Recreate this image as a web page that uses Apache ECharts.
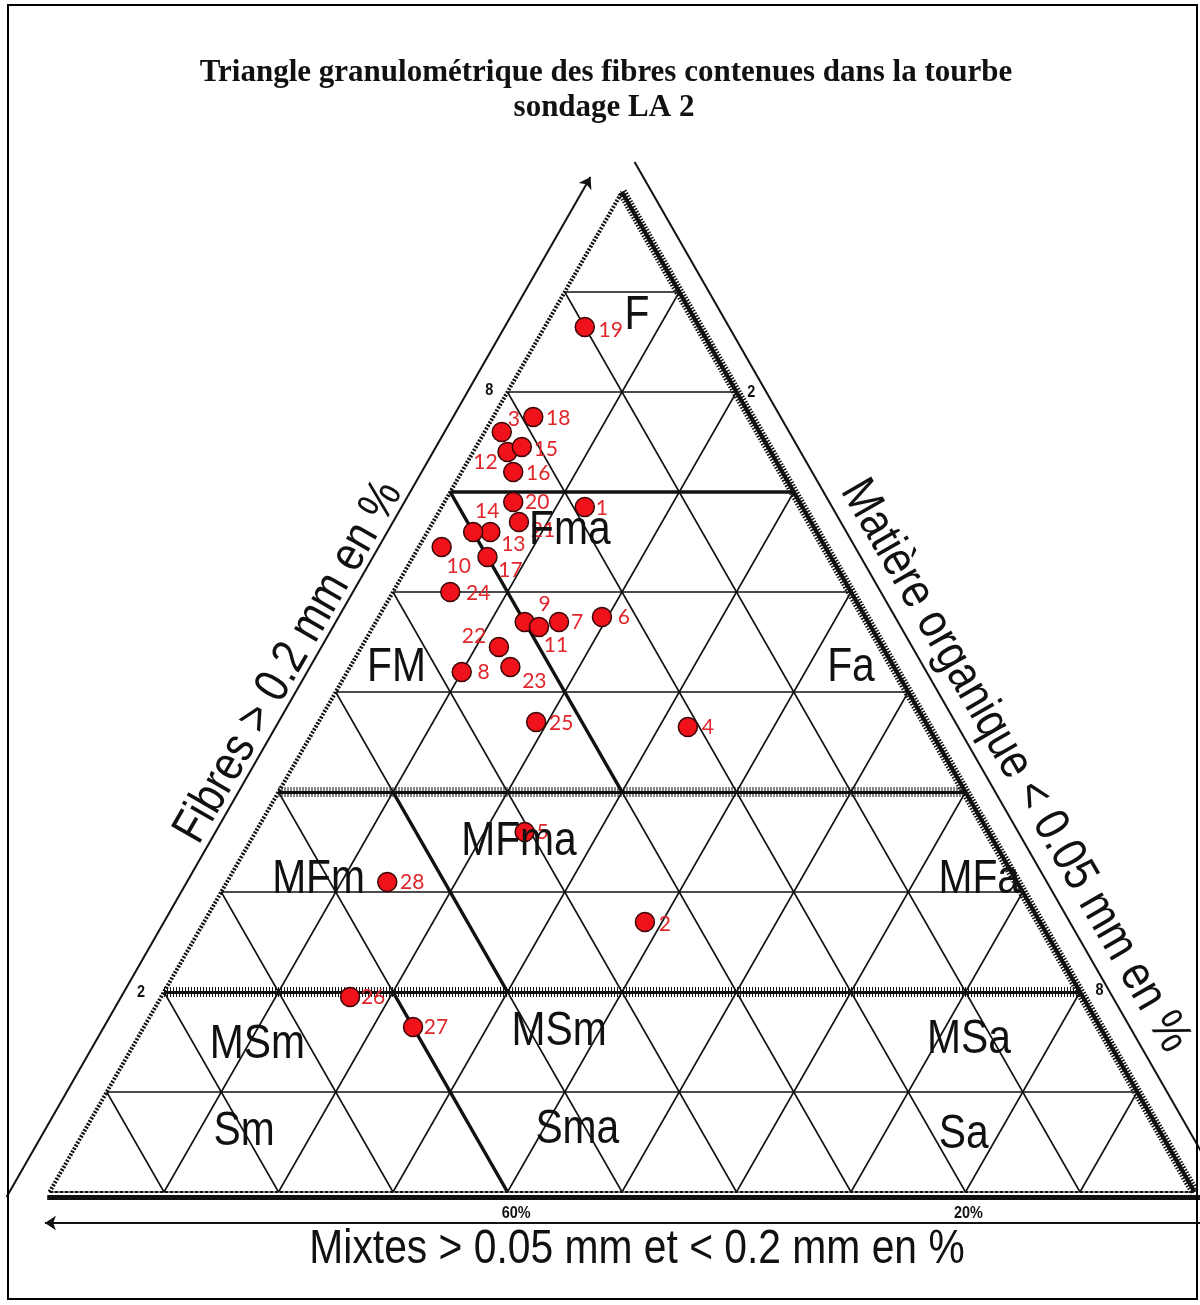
<!DOCTYPE html>
<html>
<head>
<meta charset="utf-8">
<script src="https://cdn.jsdelivr.net/npm/echarts@6/dist/echarts.min.js"></script>
<style>
  html, body { margin: 0; padding: 0; background: #fff; }
  #chart { width: 1200px; height: 1305px; }
</style>
</head>
<body>
<div id="chart"></div>
<script>
const sampleIds = ['1','2','3','4','5','6','7','8','9','10','11','12','13','14',
  '15','16','17','18','19','20','21','22','23','24','25','26','27','28']
const fibres  = [68.5, 27, 76, 46.5, 36, 57.5, 57, 52, 57, 64.5, 56.5, 74, 66, 66,
  74.5, 72, 63.5, 77.5, 86.5, 69, 67, 54.5, 52.5, 60, 47, 19.5, 16.5, 31]
const mixtes  = [19, 34.5, 22.5, 21, 40.5, 23, 27, 38, 30, 33.5, 29, 23, 28.5, 30,
  21.5, 23.5, 30, 19, 10, 25, 25.5, 33.5, 33.5, 35, 34, 64, 60, 55]
const organic = [12.5, 38.5, 1.5, 32.5, 23.5, 19.5, 16, 10, 13, 2, 14.5, 3, 5.5, 4,
  4, 4.5, 6.5, 3.5, 3.5, 6, 7.5, 12, 14, 5, 19, 16.5, 23.5, 14]

// quadrillage : une ligne tous les 10 %
const gridSteps = [10, 20, 30, 40, 50, 60, 70, 80, 90]

// classes (nom, fibres %, matière organique %)
const zoneNames   = ['F', 'Fma', 'FM', 'Fa', 'MFma', 'MFm', 'MFa', 'MSm', 'MSm', 'MSa', 'Sm', 'Sma', 'Sa']
const zoneFibres  = [87.6, 66.1, 52.4, 52.4, 35, 31.2, 31.2, 14.7, 16, 15.2, 6, 6.2, 5.7]
const zoneOrganic = [7.5, 12.4, 4.1, 43.8, 23.5, 7.9, 65.6, 10.8, 36.5, 72.7, 14, 43, 77]

// graduations sur les bords
const edgeTicks        = ['8', '2', '2', '8', '60%', '20%']
const edgeTickFibres   = [80.2, 80, 20, 20.2, -2.1, -2.1]
const edgeTickOrganic  = [-1.7, 21.3, -2.0, 81.6, 41.8, 81.3]

// décalage des étiquettes (px) par rapport au point
const labelShift = {
  '1': [17, 1], '2': [20, 2], '3': [12, -13], '4': [20, 0], '5': [18, 0], '6': [22, 0],
  '7': [18, 0], '8': [22, 0], '9': [20, -18], '10': [17, 19], '11': [17, 18], '12': [-22, 10],
  '13': [23, 12], '14': [14, -21], '15': [24, 2], '16': [25, 1], '17': [23, 13], '18': [25, 1],
  '19': [26, 3], '20': [24, 0], '21': [24, 8], '22': [-25, -11], '23': [24, 14], '24': [28, 1],
  '25': [25, 1], '26': [23, 0], '27': [23, 0], '28': [25, 0]
}

// ternaire -> cartésien : x = MO + F/2, y = F
const tern = (f, o) => [o + f / 2, f]

const seg = (a, b) => ({ coords: [a, b] })

const thin = []
gridSteps.forEach(s => {
  thin.push(seg(tern(s, 0), tern(s, 100 - s)))         // fibres = s
  thin.push(seg(tern(100 - s, 0), tern(0, 100 - s)))   // mixtes = s
  thin.push(seg(tern(100 - s, s), tern(0, s)))         // matière org. = s
})

const thickSolid = [
  seg(tern(70, 0), tern(70, 30)),
  seg(tern(70, 0), tern(40, 30)),
  seg(tern(40, 10), tern(20, 30)),
  seg(tern(20, 20), tern(0, 40))
]
const hatched = [
  seg(tern(40, 0), tern(40, 60)),
  seg(tern(20, 0), tern(20, 80))
]

const linesSeries = (data, style, z, extra) => Object.assign({
  type: 'lines', coordinateSystem: 'cartesian2d', polyline: false, silent: true,
  z: z, data: data, lineStyle: Object.assign({ color: '#111', opacity: 1, curveness: 0 }, style)
}, extra || {})

// texte "condensé" (Helvetica étroite du document d'origine)
const SANS = '"Liberation Sans", Arial, sans-serif'
const condText = (text, x, y, size, rot, z, weight) => ({
  type: 'text', x: x, y: y, rotation: rot || 0, scaleX: 0.85, z: z || 100,
  style: { text: text, fill: '#111', font: (weight ? weight + ' ' : '') + size + 'px ' + SANS,
    align: 'center', verticalAlign: 'middle', textAlign: 'center', textVerticalAlign: 'middle' }
})

const chart = echarts.init(document.getElementById('chart'))
chart.setOption({
  animation: false,
  backgroundColor: '#fff',
  grid: { left: 0, right: 0, top: 0, bottom: 0 },
  xAxis: { type: 'value', min: -49.5 / 11.45, max: (1200 - 49.5) / 11.45, show: false },
  yAxis: { type: 'value', min: (1192 - 1305) / 10, max: 119.2, show: false },
  series: [
    linesSeries(thin, { width: 1.6 }, 1),
    linesSeries(thickSolid, { width: 3.5 }, 2),
    linesSeries(hatched, { width: 3 }, 2),
    linesSeries(hatched, { width: 10, type: [1, 2] }, 2),
    // bord gauche pointillé
    linesSeries([seg(tern(0, 0), tern(100, 0))], { width: 4, type: [2, 1.5] }, 3),
    // bord droit hachuré
    linesSeries([seg(tern(100, 0), tern(0, 100))], { width: 4 }, 3),
    linesSeries([seg(tern(100, 0), tern(0, 100))], { width: 10, type: [1.5, 1.5] }, 3),
    // base
    linesSeries([seg(tern(0, 0), tern(0, 100))], { width: 2, type: [4, 1] }, 3),
    linesSeries([seg([-0.2, -0.5], [100.6, -0.5])], { width: 5 }, 3),
    // lignes extérieures fléchées
    linesSeries([seg(tern(-0.5, -3.5), tern(101.5, -3.5))], { width: 2 }, 3,
      { symbol: ['none', 'arrow'], symbolSize: 11 }),
    linesSeries([seg(tern(103, -0.4), tern(-6, 108.6))], { width: 2 }, 3),
    linesSeries([seg([100.6, -3.1], [-0.4, -3.1])], { width: 2 }, 3,
      { symbol: ['none', 'arrow'], symbolSize: 11 }),
    {
      type: 'scatter', z: 10, silent: true,
      symbolSize: 19,
      itemStyle: { color: '#f0121a', borderColor: '#3a0606', borderWidth: 1.5, opacity: 1 },
      label: { show: true, position: 'inside', formatter: '{b}', color: '#e0262b',
        fontSize: 21, fontFamily: 'Lato' },
      data: sampleIds.map((id, i) => {
        const t = fibres[i] + mixtes[i] + organic[i]
        return {
          name: id,
          value: tern(fibres[i] * 100 / t, organic[i] * 100 / t),
          label: { offset: labelShift[id] }
        }
      })
    }
  ]
})

// noms des classes et graduations placés via l'échelle du graphique
const toPx = (f, o) => chart.convertToPixel({ gridIndex: 0 }, tern(f, o))
const zoneTexts = zoneNames.map((n, i) => {
  const p = toPx(zoneFibres[i], zoneOrganic[i])
  return condText(n, p[0], p[1], 48, 0, 50)
})
const tickTexts = edgeTicks.map((n, i) => {
  const p = toPx(edgeTickFibres[i], edgeTickOrganic[i])
  return condText(n, p[0], p[1], 17, 0, 50, 'bold')
})

chart.setOption({
  graphic: [
    { type: 'rect', shape: { x: 8, y: 5, width: 1189, height: 1294 },
      style: { fill: 'none', stroke: '#000', lineWidth: 2 }, z: 100 },
    { type: 'text', x: 606, y: 73, z: 100,
      style: { text: 'Triangle granulométrique des fibres contenues dans la tourbe', fill: '#111',
        font: 'bold 31px "Liberation Serif"', align: 'center', verticalAlign: 'middle',
        textAlign: 'center', textVerticalAlign: 'middle' } },
    { type: 'text', x: 604, y: 108, z: 100,
      style: { text: 'sondage LA 2', fill: '#111',
        font: 'bold 31px "Liberation Serif"', align: 'center', verticalAlign: 'middle',
        textAlign: 'center', textVerticalAlign: 'middle' } },
    condText('Fibres > 0.2 mm en %', 289, 662, 49, Math.PI / 3),
    condText('Matière organique < 0.05 mm en %', 1015, 766, 49, -Math.PI / 3),
    condText('Mixtes > 0.05 mm et < 0.2 mm en %', 637, 1250, 48, 0)
  ].concat(zoneTexts, tickTexts)
})
</script>
</body>
</html>
